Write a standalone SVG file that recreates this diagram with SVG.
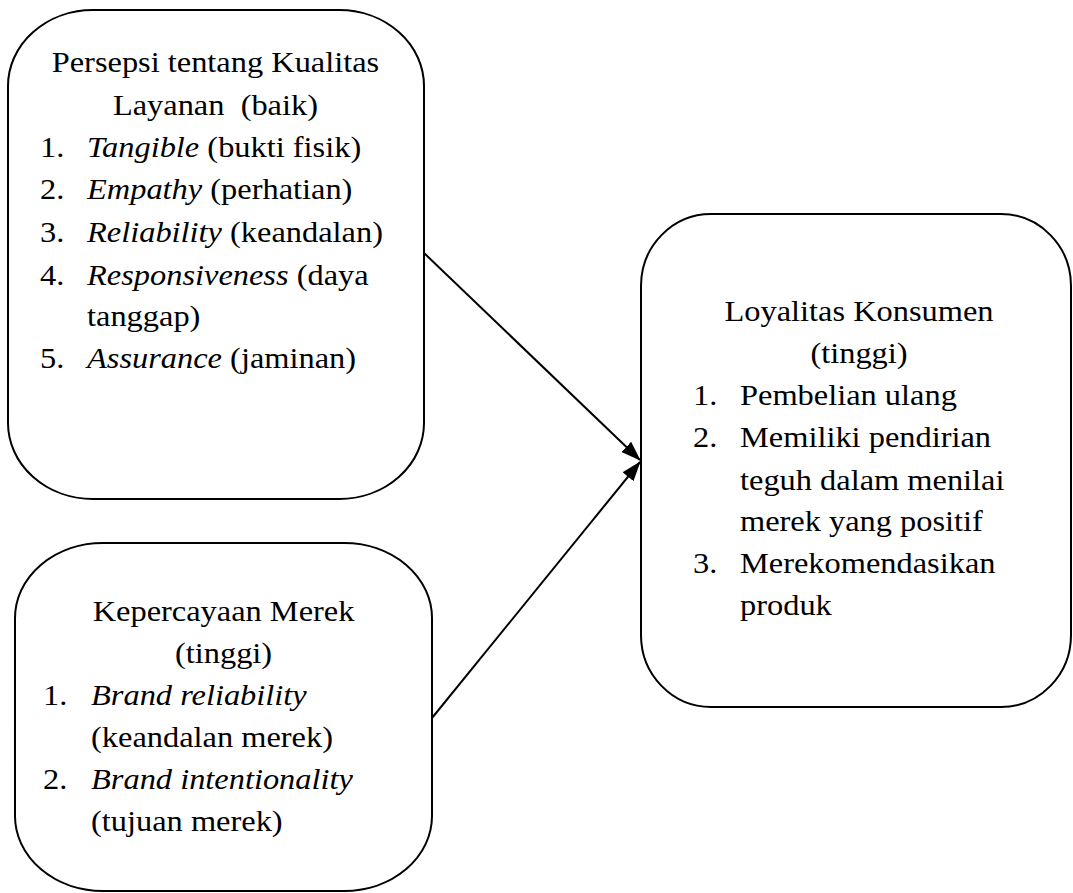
<svg xmlns="http://www.w3.org/2000/svg" width="1073" height="893" viewBox="0 0 1073 893">
<style>
.box{fill:#fff;stroke:#000;stroke-width:2}
.t{font-size:30px;fill:#000}
.c{text-anchor:middle}
.i{font-style:italic}
.conn{stroke:#000;stroke-width:2;fill:none}
</style>
<defs>
<marker id="arr" markerUnits="userSpaceOnUse" markerWidth="20" markerHeight="16" viewBox="0 0 20 16" refX="19" refY="8" orient="auto">
<path d="M0,1 L20,8 L0,15 Z" fill="#000"/>
</marker>
</defs>
<g id="connectors">
<line class="conn" x1="424" y1="253" x2="640" y2="460" marker-end="url(#arr)"/>
<line class="conn" x1="432" y1="718" x2="640" y2="462" marker-end="url(#arr)"/>
</g>
<g id="node-kualitas">
<rect class="box" x="8" y="10" width="416" height="489" rx="85" ry="76"/>
<g transform="scale(1.08,1)" class="t" font-family="'Liberation Serif', 'Times New Roman', Times, serif">
<text class="c" x="199.5" y="72">Persepsi tentang Kualitas</text>
<text class="c" x="199.5" y="115" xml:space="preserve">Layanan  (baik)</text>
<text x="37" y="157">1.</text><text x="80.6" y="157"><tspan class="i">Tangible</tspan> (bukti fisik)</text>
<text x="37" y="199">2.</text><text x="80.6" y="199"><tspan class="i">Empathy</tspan> (perhatian)</text>
<text x="37" y="242">3.</text><text x="80.6" y="242"><tspan class="i">Reliability</tspan> (keandalan)</text>
<text x="37" y="285">4.</text><text x="80.6" y="285"><tspan class="i">Responsiveness</tspan> (daya</text>
<text x="80.6" y="326">tanggap)</text>
<text x="37" y="368">5.</text><text x="80.6" y="368"><tspan class="i">Assurance</tspan> (jaminan)</text>
</g>
</g>
<g id="node-kepercayaan">
<rect class="box" x="15" y="543" width="417" height="348" rx="88" ry="75"/>
<g transform="scale(1.08,1)" class="t" font-family="'Liberation Serif', 'Times New Roman', Times, serif">
<text class="c" x="207" y="621">Kepercayaan Merek</text>
<text class="c" x="207" y="663">(tinggi)</text>
<text x="39.8" y="705">1.</text><text x="84.3" y="705" class="i">Brand reliability</text>
<text x="84.3" y="747">(keandalan merek)</text>
<text x="39.8" y="789">2.</text><text x="84.3" y="789" class="i">Brand intentionality</text>
<text x="84.3" y="831">(tujuan merek)</text>
</g>
</g>
<g id="node-loyalitas">
<rect class="box" x="641" y="214" width="430" height="493" rx="70" ry="72"/>
<g transform="scale(1.08,1)" class="t" font-family="'Liberation Serif', 'Times New Roman', Times, serif">
<text class="c" x="795.4" y="321">Loyalitas Konsumen</text>
<text class="c" x="795.4" y="363">(tinggi)</text>
<text x="641.7" y="405">1.</text><text x="685.2" y="405">Pembelian ulang</text>
<text x="641.7" y="447">2.</text><text x="685.2" y="447">Memiliki pendirian</text>
<text x="685.2" y="490">teguh dalam menilai</text>
<text x="685.2" y="531">merek yang positif</text>
<text x="641.7" y="573">3.</text><text x="685.2" y="573">Merekomendasikan</text>
<text x="685.2" y="615">produk</text>
</g>
</g>
</svg>
